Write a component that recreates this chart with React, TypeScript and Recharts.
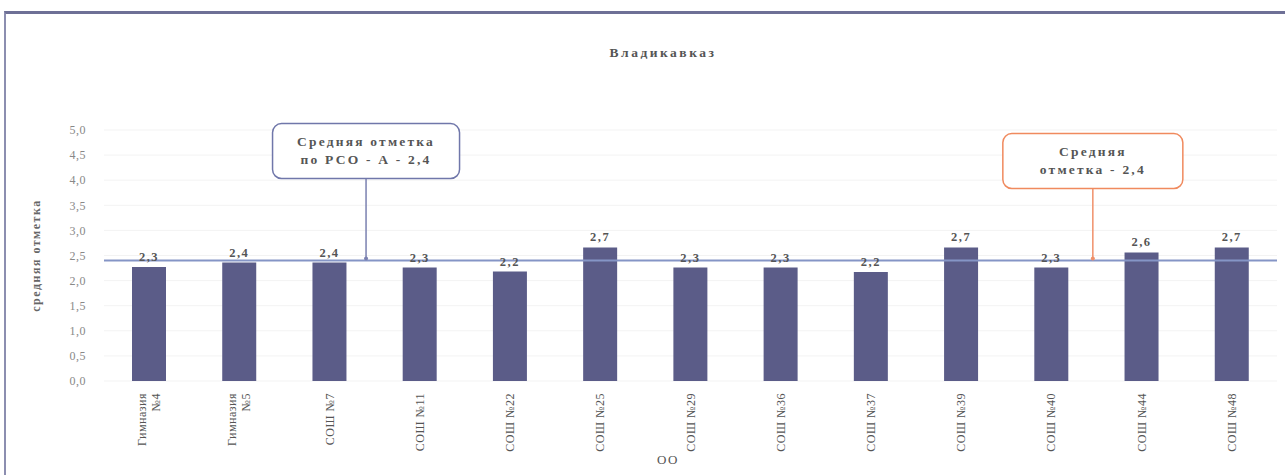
import { BarChart, Bar, XAxis, YAxis, CartesianGrid, ReferenceLine, LabelList } from 'recharts';

const schools = [
  'Гимназия №4',
  'Гимназия №5',
  'СОШ №7',
  'СОШ №11',
  'СОШ №22',
  'СОШ №25',
  'СОШ №29',
  'СОШ №36',
  'СОШ №37',
  'СОШ №39',
  'СОШ №40',
  'СОШ №44',
  'СОШ №48',
];
const averageMarks = [2.27, 2.36, 2.36, 2.26, 2.18, 2.66, 2.26, 2.26, 2.17, 2.66, 2.26, 2.56, 2.66];
const yTicks = [0, 0.5, 1, 1.5, 2, 2.5, 3, 3.5, 4, 4.5, 5];
const regionAverage = 2.4;
const cityAverage = 2.4;
const regionCallout = ['Средняя отметка', 'по РСО - А - 2,4'];
const cityCallout = ['Средняя', 'отметка - 2,4'];

const data = schools.map((name, i) => ({ name, mark: averageMarks[i] }));

const FONT = '"Liberation Serif", "Times New Roman", serif';
const comma = (v: number) => v.toFixed(1).replace('.', ',');

const SchoolTick = ({ x, y, payload }: any) => {
  const words = String(payload.value);
  const lines = words.startsWith('Гимназия') ? words.split(' ') : [words];
  const start = x - (lines.length - 1) * 7;
  return (
    <g>
      {lines.map((line, i) => (
        <text
          key={i}
          x={0}
          y={0}
          transform={`translate(${start + i * 14 + 4},${y + 4}) rotate(-90)`}
          textAnchor="end"
          fontSize={12}
          letterSpacing={0.5}
          fontFamily={FONT}
          fill="#555"
        >
          {line}
        </text>
      ))}
    </g>
  );
};

const Callout = ({ viewBox, at, lines, color, rise, boxW, lineColor }: any) => {
  if (!viewBox) return null;
  const cx = viewBox.x + viewBox.width * at;
  const ly = viewBox.y;
  const boxH = 55;
  const top = ly - rise;
  return (
    <g>
      <line x1={cx} y1={top + boxH} x2={cx} y2={ly - 2} stroke={lineColor} strokeWidth={1.5} />
      <circle cx={cx} cy={ly - 2} r={2} fill={lineColor} />
      <rect x={cx - boxW / 2} y={top} width={boxW} height={boxH} rx={9} fill="#fff" stroke={color} strokeWidth={1.5} />
      {lines.map((l: string, i: number) => (
        <text
          key={i}
          x={cx}
          y={top + 22 + i * 18}
          textAnchor="middle"
          fontSize={13.5}
          letterSpacing={2.2}
          fontWeight="bold"
          fontFamily={FONT}
          fill="#555"
        >
          {l}
        </text>
      ))}
    </g>
  );
};

export default function App() {
  return (
    <div style={{ position: 'absolute', left: 0, top: 0, width: 1285, height: 475, overflow: 'hidden', background: '#fff', fontFamily: FONT }}>
      <div
        style={{
          position: 'absolute',
          left: 4,
          top: 11,
          width: 1300,
          height: 500,
          borderTop: '3px solid #6e7096',
          borderLeft: '2px solid #8c8eb0',
        }}
      />
      <div
        style={{
          position: 'absolute',
          left: 513,
          top: 45,
          width: 300,
          textAlign: 'center',
          fontSize: 13.5,
          letterSpacing: 2.5,
          fontWeight: 'bold',
          color: '#555',
        }}
      >
        Владикавказ
      </div>
      <div style={{ position: 'absolute', left: 618, top: 452, width: 100, textAlign: 'center', fontSize: 13, letterSpacing: 1.5, color: '#555' }}>ОО</div>
      <BarChart
        width={1285}
        height={475}
        data={data}
        margin={{ top: 130, right: 8, bottom: 14, left: 0 }}
        style={{ position: 'absolute', left: 0, top: 0 }}
      >
        <CartesianGrid vertical={false} stroke="#f3f3f3" />
        <XAxis dataKey="name" interval={0} axisLine={false} tickLine={false} height={80} tick={<SchoolTick />} />
        <YAxis
          domain={[0, 5]}
          ticks={yTicks}
          tickFormatter={comma}
          axisLine={false}
          tickLine={false}
          width={104}
          tickMargin={12}
          tick={{ fontSize: 12, fill: '#888', fontFamily: FONT, letterSpacing: 0.5 }}
          label={{
            value: 'средняя отметка',
            angle: -90,
            position: 'insideLeft',
            offset: 36,
            style: { fontSize: 12, fill: '#666', fontFamily: FONT, fontWeight: 'bold', letterSpacing: 1.5, textAnchor: 'middle' },
          }}
        />
        <Bar dataKey="mark" fill="#5b5c88" barSize={34} isAnimationActive={false}>
          <LabelList
            dataKey="mark"
            position="top"
            offset={6}
            formatter={(v: any) => comma(Number(v))}
            style={{ fontSize: 12.5, letterSpacing: 1.5, fontWeight: 'bold', fill: '#555', fontFamily: FONT }}
          />
        </Bar>
        <ReferenceLine
          y={regionAverage}
          stroke="#8595c6"
          strokeWidth={2}
          label={<Callout at={0.2234} lines={regionCallout} color="#7077aa" lineColor="#7a80b0" rise={137} boxW={187} />}
        />
        <ReferenceLine
          y={cityAverage}
          stroke="#8595c6"
          strokeWidth={0}
          strokeOpacity={0}
          label={<Callout at={0.843} lines={cityCallout} color="#f08a5e" lineColor="#f0906a" rise={127} boxW={180} />}
        />
      </BarChart>
    </div>
  );
}
